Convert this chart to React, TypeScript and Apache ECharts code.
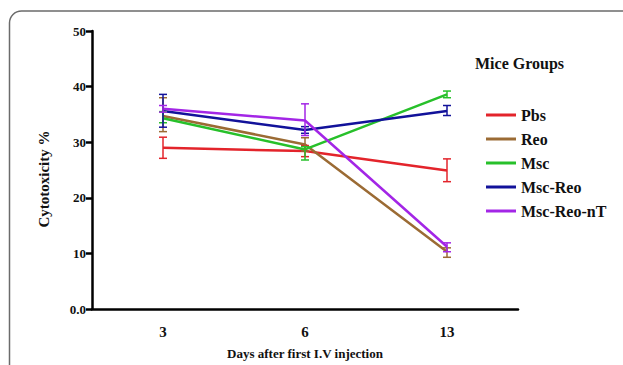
import React, { useEffect, useRef } from "react";
import * as echarts from "echarts";

const days = ["3", "6", "13"];

const seriesNames = ["Pbs", "Reo", "Msc", "Msc-Reo", "Msc-Reo-nT"];
const seriesColors = ["#e3242b", "#9b6b34", "#27c02a", "#12129a", "#a326e6"];

const pbsMean = [29.0, 28.4, 24.9];
const pbsLow = [27.1, 27.4, 22.9];
const pbsHigh = [30.9, 29.4, 27.0];

const reoMean = [34.7, 29.6, 10.3];
const reoLow = [31.9, 28.4, 9.3];
const reoHigh = [38.0, 30.8, 11.0];

const mscMean = [34.3, 28.7, 38.6];
const mscLow = [33.5, 26.8, 38.0];
const mscHigh = [35.5, 29.2, 39.2];

const mscReoMean = [35.6, 32.2, 35.6];
const mscReoLow = [32.7, 31.6, 34.8];
const mscReoHigh = [38.6, 32.8, 36.6];

const nTMean = [36.0, 33.9, 11.2];
const nTLow = [35.4, 31.2, 10.3];
const nTHigh = [36.6, 36.9, 11.9];

const means = [pbsMean, reoMean, mscMean, mscReoMean, nTMean];
const lows = [pbsLow, reoLow, mscLow, mscReoLow, nTLow];
const highs = [pbsHigh, reoHigh, mscHigh, mscReoHigh, nTHigh];

const FONT = "Liberation Serif";

export default function App() {
  const ref = useRef<HTMLDivElement>(null);
  useEffect(() => {
    document.body.style.margin = "0";
    const chart = echarts.init(ref.current!, null, { renderer: "svg" });
    const lineSeries: any[] = seriesNames.map((name, i) => ({
      name,
      type: "line",
      data: means[i],
      symbol: "none",
      lineStyle: { color: seriesColors[i], width: 2.5 },
      itemStyle: { color: seriesColors[i] },
      z: 2 + i * 0.1,
    }));
    const errSeries: any[] = seriesNames.map((name, i) => ({
      name: name + " error",
      type: "custom",
      data: days.map((_, k) => [k, lows[i][k], highs[i][k]]),
      z: 3,
      renderItem: (params: any, api: any) => {
        const x = api.value(0);
        const lo = api.coord([x, api.value(1)]);
        const hi = api.coord([x, api.value(2)]);
        const cw = 4;
        const style = { stroke: seriesColors[i], lineWidth: 1.5 };
        return {
          type: "group",
          children: [
            { type: "line", shape: { x1: lo[0], y1: lo[1], x2: hi[0], y2: hi[1] }, style },
            { type: "line", shape: { x1: lo[0] - cw, y1: lo[1], x2: lo[0] + cw, y2: lo[1] }, style },
            { type: "line", shape: { x1: hi[0] - cw, y1: hi[1], x2: hi[0] + cw, y2: hi[1] }, style },
          ],
        };
      },
    }));
    chart.setOption({
      animation: false,
      backgroundColor: "#ffffff",
      textStyle: { fontFamily: FONT },
      grid: { left: 92, right: 105, top: 31, bottom: 51 },
      graphic: [
        {
          type: "rect",
          shape: { x: 9.5, y: 11, width: 700, height: 500, r: 12 },
          style: { fill: "none", stroke: "#6b6b6b", lineWidth: 1.5 },
          silent: true,
        },
        {
          type: "text",
          left: 475,
          top: 55,
          style: {
            text: "Mice Groups",
            fontFamily: FONT,
            fontWeight: "bold",
            fontSize: 16,
            fill: "#111",
          },
        },
        {
          type: "text",
          x: 44,
          y: 179,
          rotation: Math.PI / 2,
          style: {
            text: "Cytotoxicity %",
            fontFamily: FONT,
            fontWeight: "bold",
            fontSize: 15,
            fill: "#111",
            align: "center",
            verticalAlign: "middle",
          },
        },
      ],
      legend: {
        data: seriesNames,
        orient: "vertical",
        left: 481,
        top: 102,
        itemWidth: 30,
        itemHeight: 3,
        itemGap: 8,
        icon: "rect",
        textStyle: { fontFamily: FONT, fontWeight: "bold", fontSize: 16, color: "#111" },
      },
      xAxis: {
        type: "category",
        data: days,
        boundaryGap: true,
        name: "Days after first I.V injection",
        nameLocation: "middle",
        nameGap: 38,
        nameTextStyle: { fontFamily: FONT, fontWeight: "bold", fontSize: 13, color: "#111" },
        axisLine: { lineStyle: { color: "#000", width: 2.5 } },
        axisTick: { alignWithLabel: true, length: 7, lineStyle: { color: "#000", width: 2.5 } },
        axisLabel: { fontFamily: FONT, fontWeight: "bold", fontSize: 15, color: "#111", margin: 15 },
      },
      yAxis: {
        type: "value",
        min: 0,
        max: 50,
        interval: 10,
        axisLine: { show: true, lineStyle: { color: "#000", width: 2.5 } },
        axisTick: { show: true, length: 6, lineStyle: { color: "#000", width: 2.5 } },
        splitLine: { show: false },
        axisLabel: {
          fontFamily: FONT,
          fontWeight: "bold",
          fontSize: 13,
          color: "#111",
          margin: 6,
          formatter: (v: number) => (v === 0 ? "0.0" : String(v)),
        },
      },
      series: [...lineSeries, ...errSeries],
    });
    return () => chart.dispose();
  }, []);
  return <div ref={ref} style={{ width: 623, height: 365 }} />;
}
